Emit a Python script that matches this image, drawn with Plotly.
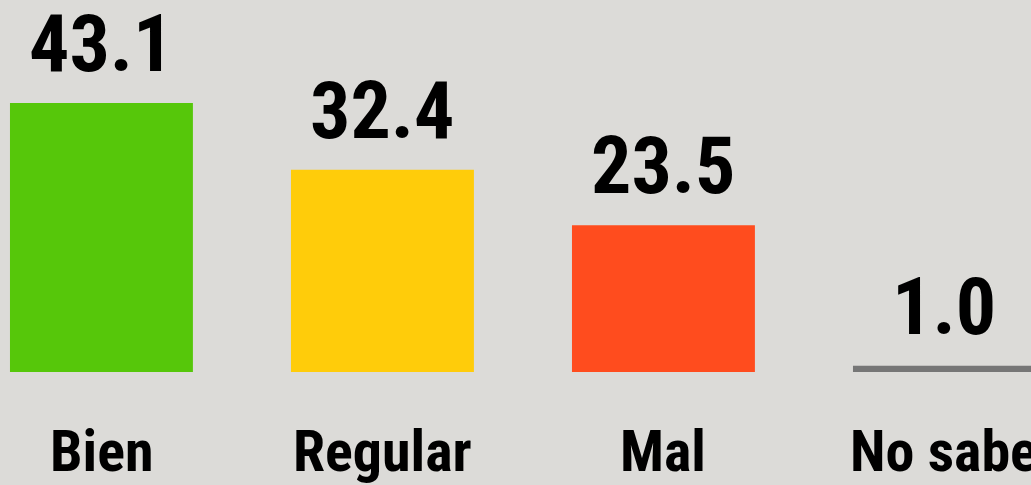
import plotly.graph_objects as go

categories = ["Bien", "Regular", "Mal", "No sabe"]
values = [43.1, 32.4, 23.5, 1.0]
value_labels = ["43.1", "32.4", "23.5", "1.0"]
colors = ["#56C70A", "#FFCC0A", "#FF4C1E", "#767676"]

x = list(range(len(categories)))

fig = go.Figure()
fig.add_trace(go.Bar(
    x=x, y=values, width=0.651,
    marker=dict(color=colors, line=dict(width=0)),
    hoverinfo="skip",
))

for xi, v, t in zip(x, values, value_labels):
    fig.add_annotation(
        x=xi, y=v, text=t, showarrow=False,
        xref="x", yref="y", yanchor="middle", yshift=59,
        font=dict(family="Roboto Condensed, Liberation Sans Narrow, sans-serif",
                  size=80, color="#000000", weight="bold"),
    )

for xi, c in zip(x, categories):
    fig.add_annotation(
        x=xi, y=0, text=c, showarrow=False,
        xref="x", yref="y", yanchor="middle", yshift=-79,
        font=dict(family="Roboto Condensed, Liberation Sans Narrow, sans-serif",
                  size=58, color="#000000", weight="bold"),
    )

fig.update_layout(
    width=1031, height=485,
    margin=dict(l=0, r=0, t=0, b=0),
    paper_bgcolor="#DCDBD8",
    plot_bgcolor="rgba(0,0,0,0)",
    showlegend=False,
    xaxis=dict(range=[-0.361, 3.308], visible=False, fixedrange=True),
    yaxis=dict(range=[-18.1, 59.6], visible=False, fixedrange=True),
)

fig.write_html("out.html", config={"displayModeBar": False})

with open("out.html", "r", encoding="utf-8") as fh:
    html = fh.read()
html = html.replace("<head>", "<head><style>html,body{margin:0;padding:0;overflow:hidden;background:#DCDBD8;}</style>", 1)
with open("out.html", "w", encoding="utf-8") as fh:
    fh.write(html)
